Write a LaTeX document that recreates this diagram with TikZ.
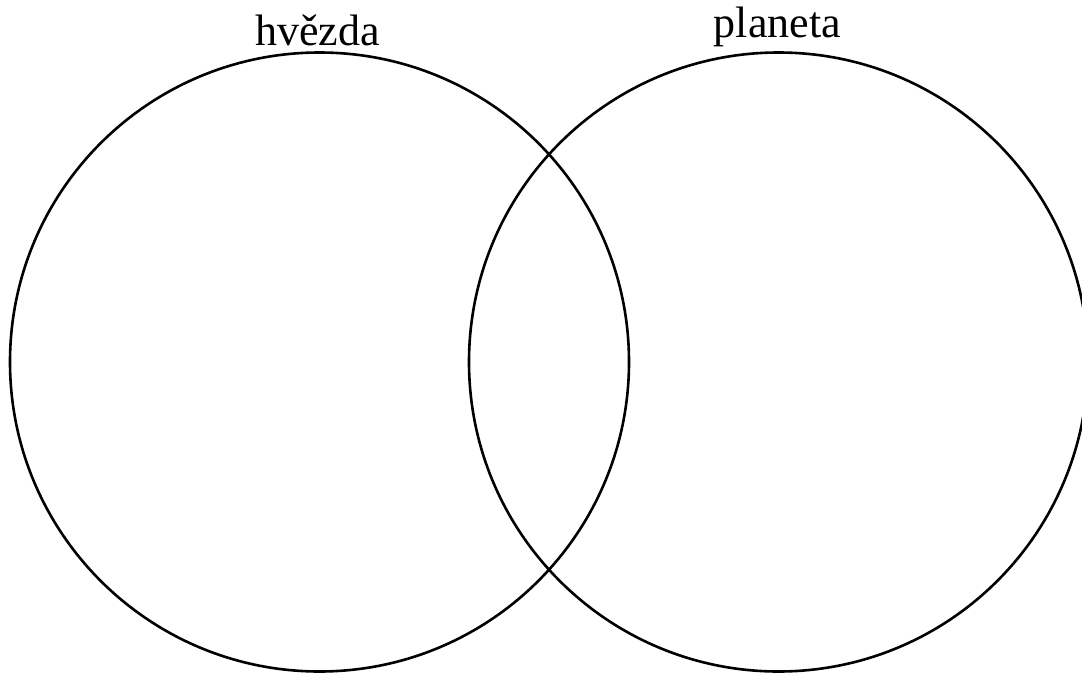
\documentclass[tikz,border=0pt]{standalone}
\usepackage{fontspec}
\setmainfont{Liberation Serif}
\begin{document}
\begin{tikzpicture}[x=1pt,y=-1pt,
  ring/.style={draw=black,line width=2.6pt,circle,minimum size=619pt,inner sep=0pt},
  lbl/.style={anchor=base,font=\fontsize{44}{52}\selectfont,inner sep=0pt}]
\useasboundingbox (0,0) rectangle (1082,673);
\begin{scope}
\clip (0,0) rectangle (1082,673);
\node[ring] (star) at (319.5,362) {};
\node[ring] (planet) at (778.5,362) {};
\end{scope}
\node[lbl] (t1) at (317.5,45) {hvězda};
\node[lbl] (t2) at (777.5,37) {planeta};
\end{tikzpicture}
\end{document}
